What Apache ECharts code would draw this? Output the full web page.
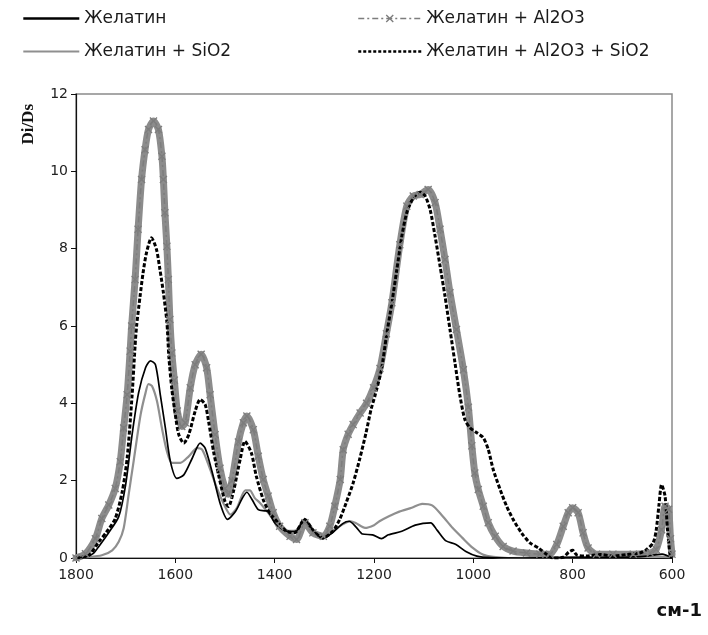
<!DOCTYPE html>
<html>
<head>
<meta charset="utf-8">
<script src="https://cdn.jsdelivr.net/npm/echarts@6/dist/echarts.min.js"></script>
<style>
html,body{margin:0;padding:0;background:#fff;}
#chart{width:708px;height:635px;}
</style>
</head>
<body>
<div id="chart"></div>
<script>
// ---- Data (wavenumber, cm-1  ->  Di/Ds) ----
const seriesNames = ['Желатин', 'Желатин + SiO2', 'Желатин + Al2O3', 'Желатин + Al2O3 + SiO2'];

const wnGel = [1800,1780,1765,1754,1734,1714,1700,1687,1674,1660,1650,1640,1630,1620,1610,1597,1583,1566,1550,1540,1526,1509,1495,1479,1465,1456,1445,1433,1420,1413,1400,1385,1370,1356,1340,1323,1303,1283,1263,1250,1236,1223,1203,1185,1171,1144,1117,1086,1073,1056,1035,1015,993,966,900,800,700,650,620,600];
const gel   = [0,0.03,0.12,0.3,0.66,1.07,1.9,3.2,4.27,4.92,5.1,5.0,4.2,3.36,2.5,2.06,2.15,2.58,2.97,2.84,2.23,1.38,1.0,1.2,1.55,1.7,1.5,1.25,1.22,1.2,0.91,0.75,0.68,0.7,1.0,0.72,0.5,0.66,0.89,0.95,0.8,0.62,0.6,0.5,0.6,0.69,0.85,0.91,0.72,0.45,0.35,0.17,0.05,0.01,0,0.02,0.02,0.05,0.1,0];

const wnSiO2 = [1800,1780,1748,1727,1714,1704,1694,1684,1670,1660,1654,1647,1637,1627,1617,1607,1590,1573,1556,1546,1533,1516,1500,1489,1476,1459,1450,1440,1430,1415,1400,1385,1370,1356,1340,1323,1303,1283,1263,1247,1236,1218,1200,1189,1170,1149,1124,1103,1083,1063,1042,1022,1001,981,960,930,800,700,650,600];
const sio2   = [0,0.02,0.07,0.2,0.42,0.77,1.64,2.5,3.7,4.27,4.5,4.45,4.06,3.36,2.76,2.46,2.46,2.63,2.84,2.8,2.4,1.8,1.33,1.12,1.3,1.75,1.75,1.55,1.43,1.2,0.95,0.78,0.7,0.72,1.0,0.72,0.55,0.7,0.87,0.95,0.9,0.78,0.85,0.95,1.08,1.2,1.3,1.4,1.36,1.1,0.78,0.52,0.26,0.09,0.03,0,0.02,0.02,0.05,0.02];

const wnAl = [1800,1781,1761,1748,1734,1721,1711,1704,1697,1691,1688,1681,1675,1668,1661,1654,1644,1634,1627,1624,1621,1617,1614,1611,1607,1602,1596,1587,1580,1570,1560,1548,1537,1530,1520,1510,1500,1493,1486,1473,1463,1456,1443,1433,1423,1413,1403,1390,1369,1356,1339,1323,1302,1289,1279,1268,1262,1252,1242,1228,1215,1201,1188,1175,1164,1148,1134,1121,1107,1091,1077,1067,1057,1047,1034,1020,1010,1003,997,990,980,970,956,940,920,893,866,846,832,819,809,800,789,779,769,752,719,678,644,632,621,614,607,603,600];
const al   = [0,0.11,0.5,1.02,1.37,1.8,2.49,3.36,4.22,5.35,6.0,7.2,8.5,9.79,10.56,11.08,11.3,11.08,10.39,9.79,8.93,8.06,7.2,6.17,5.3,4.6,3.8,3.4,3.5,4.4,5.0,5.27,4.92,4.22,3.19,2.32,1.8,1.65,2.0,3.0,3.5,3.67,3.32,2.63,2.03,1.6,1.17,0.82,0.56,0.48,0.91,0.65,0.56,0.82,1.34,2.03,2.8,3.2,3.45,3.75,4.0,4.4,4.9,5.8,6.6,8.1,9.1,9.36,9.4,9.53,9.19,8.5,7.72,6.86,5.91,4.87,3.9,2.9,2.2,1.77,1.34,0.91,0.56,0.3,0.18,0.13,0.1,0.1,0.35,0.82,1.17,1.3,1.17,0.65,0.26,0.1,0.1,0.1,0.13,0.22,0.73,1.34,1.26,0.5,0.1];

const wnAlSi = [1800,1774,1754,1738,1721,1707,1697,1687,1681,1678,1671,1665,1658,1648,1638,1631,1624,1617,1613,1607,1600,1593,1583,1573,1560,1550,1540,1533,1523,1513,1500,1493,1483,1469,1460,1447,1437,1423,1410,1393,1376,1360,1340,1323,1303,1283,1269,1256,1242,1229,1216,1206,1198,1185,1175,1164,1154,1144,1134,1121,1107,1097,1087,1077,1067,1057,1047,1037,1027,1017,1007,993,980,970,960,946,933,920,903,886,869,852,839,819,808,800,792,772,745,719,692,665,651,638,632,626,621,614,609,604,600];
const alsi   = [0,0.07,0.42,0.68,1.02,1.71,2.58,4.22,5.5,6.0,6.77,7.37,7.9,8.28,7.98,7.46,6.86,6.1,5.2,4.36,3.7,3.19,2.97,3.19,3.8,4.1,3.97,3.53,2.75,2.15,1.46,1.33,1.72,2.58,3.02,2.72,2.12,1.51,1.17,0.91,0.69,0.65,1.0,0.72,0.52,0.69,1.0,1.43,1.94,2.55,3.24,3.84,4.2,4.87,5.74,6.6,7.46,8.32,8.93,9.31,9.46,9.36,9.01,8.32,7.55,6.77,5.91,5.05,4.2,3.58,3.37,3.24,3.11,2.81,2.29,1.77,1.34,1.0,0.65,0.39,0.26,0.09,0,0.02,0.15,0.2,0.08,0.05,0.09,0.05,0.09,0.13,0.22,0.39,0.7,1.4,1.9,1.6,0.73,0.1,0];

const xMin = 600, xMax = 1800, xStep = 200;
const yMin = 0, yMax = 12, yStep = 2;

// ---- helpers ----
const pairs = (xs, ys) => xs.map((x, i) => [x, ys[i]]);
const xMark = 'path://M0,1.2L1.2,0L5,3.8L8.8,0L10,1.2L6.2,5L10,8.8L8.8,10L5,6.2L1.2,10L0,8.8L3.8,5Z';
const font = 'DejaVu Sans';
const hideDot = {opacity: 0, color: 'transparent', borderWidth: 0};

const chart = echarts.init(document.getElementById('chart'), null, {renderer: 'canvas'});
const option = {
  backgroundColor: '#ffffff',
  animation: false,
  grid: {left: 76, right: 36, top: 94, bottom: 77, show: true, borderColor: '#8a8a8a', borderWidth: 1.5, backgroundColor: 'transparent'},
  legend: [
    {
      left: 22, top: 10, padding: 0, orient: 'vertical', itemGap: 16, itemWidth: 56, itemHeight: 10,
      textStyle: {fontFamily: font, fontSize: 17, color: '#1a1a1a', lineHeight: 17},
      data: [
        {name: seriesNames[0], lineStyle: {width: 2.6, color: '#000'}, itemStyle: hideDot},
        {name: seriesNames[1], lineStyle: {width: 2.2, color: '#8f8f8f'}, itemStyle: hideDot}
      ]
    },
    {
      left: 357, top: 10, padding: 0, orient: 'vertical', itemGap: 16, itemWidth: 63, itemHeight: 10,
      textStyle: {fontFamily: font, fontSize: 17, color: '#1a1a1a', lineHeight: 17},
      data: [
        {name: seriesNames[2], lineStyle: {width: 1.5, type: [6, 3, 2, 3], color: '#7d7d7d'}, itemStyle: {color: '#7d7d7d'}},
        {name: seriesNames[3], lineStyle: {width: 2.5, type: [3, 2], color: '#000'}, itemStyle: hideDot}
      ]
    }
  ],
  xAxis: {
    type: 'value', min: xMin, max: xMax, interval: xStep, inverse: true,
    axisLine: {show: true, onZero: false, lineStyle: {color: '#111', width: 1.2}},
    axisTick: {show: true, length: 5, lineStyle: {color: '#111'}},
    axisLabel: {fontFamily: font, fontSize: 14, color: '#222', margin: 10, formatter: v => String(v)},
    splitLine: {show: false}
  },
  yAxis: {
    type: 'value', min: yMin, max: yMax, interval: yStep,
    axisLine: {show: true, onZero: false, lineStyle: {color: '#111', width: 1.2}},
    axisTick: {show: true, length: 5, lineStyle: {color: '#111'}},
    axisLabel: {fontFamily: font, fontSize: 14, color: '#222', margin: 8, formatter: v => String(v)},
    splitLine: {show: false}
  },
  graphic: [
    {type: 'text', left: 20, top: 104, rotation: Math.PI / 2,
      style: {text: 'Di/Ds', fontFamily: 'Liberation Serif', fontWeight: 'bold', fontSize: 17, fill: '#111'}},
    {type: 'text', right: 6, top: 602,
      style: {text: 'см-1', fontFamily: font, fontWeight: 'bold', fontSize: 18, fill: '#111'}}
  ],
  series: [
    {
      name: seriesNames[2], type: 'line', z: 2, data: pairs(wnAl, al),
      symbol: xMark, symbolSize: 8, showSymbol: true, smooth: 0.25,
      itemStyle: {color: '#7d7d7d'},
      lineStyle: {color: '#7d7d7d', width: 1.5, type: [6, 3, 2, 3]},
      emphasis: {disabled: true}
    },
    {
      name: seriesNames[2], type: 'line', z: 1, data: pairs(wnAl, al),
      symbol: 'none', smooth: 0.25,
      lineStyle: {color: '#8c8c8c', width: 7, cap: 'round', join: 'round'},
      emphasis: {disabled: true}
    },
    {
      name: seriesNames[1], type: 'line', z: 2, data: pairs(wnSiO2, sio2),
      symbol: 'none', smooth: 0.25,
      itemStyle: {color: '#8f8f8f'},
      lineStyle: {color: '#8f8f8f', width: 2.2},
      emphasis: {disabled: true}
    },
    {
      name: seriesNames[0], type: 'line', z: 2, data: pairs(wnGel, gel),
      symbol: 'none', smooth: 0.25,
      itemStyle: {color: '#000000'},
      lineStyle: {color: '#000000', width: 1.7},
      emphasis: {disabled: true}
    },
    {
      name: seriesNames[3], type: 'line', z: 2, data: pairs(wnAlSi, alsi),
      symbol: 'none', smooth: 0.25,
      itemStyle: {color: '#000000'},
      lineStyle: {color: '#000000', width: 3, type: [4, 2]},
      emphasis: {disabled: true}
    }
  ]
};
chart.setOption(option);
</script>
</body>
</html>
